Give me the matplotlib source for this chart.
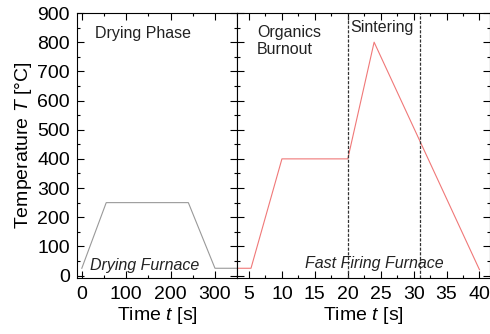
import matplotlib.pyplot as plt
from matplotlib.ticker import MultipleLocator

plt.rcParams['font.family'] = ['Liberation Sans', 'DejaVu Sans']
plt.rcParams['mathtext.fontset'] = 'custom'
plt.rcParams['mathtext.it'] = 'Liberation Sans:italic'
plt.rcParams['mathtext.rm'] = 'Liberation Sans'

# drying furnace profile
dry_t = [0, 55, 240, 300, 350]
dry_T = [25, 250, 250, 25, 25]

# fast firing furnace profile
fire_t = [3.2, 5.3, 10, 20, 24, 40]
fire_T = [25, 25, 400, 400, 800, 20]

phase_lines = [20, 31]

fig = plt.figure(figsize=(4.9, 3.34), dpi=100)
ax1 = fig.add_axes([0.157, 0.168, 0.327, 0.793])
ax2 = fig.add_axes([0.484, 0.168, 0.516, 0.793])

ax1.plot(dry_t, dry_T, color='#999999', lw=0.8)
ax2.plot(fire_t, fire_T, color='#f07878', lw=0.8)
for x in phase_lines:
    ax2.axvline(x, color='#333333', lw=0.9, ls=(0, (2.5, 1.2)))

ax1.set_xlim(-11, 350)
ax2.set_xlim(3.2, 41.6)
for ax in (ax1, ax2):
    ax.set_ylim(-8, 900)
    ax.yaxis.set_major_locator(MultipleLocator(100))
    ax.yaxis.set_minor_locator(MultipleLocator(50))
    ax.tick_params(which='both', direction='in', top=True, right=True,
                   labelsize=14)
    ax.tick_params(which='major', length=5, width=0.8)
    ax.tick_params(which='minor', length=2.5, width=0.8)
    ax.tick_params(axis='x', pad=6)
    ax.set_xlabel('Time $t$ [s]', fontsize=14, labelpad=1)
ax1.xaxis.set_major_locator(MultipleLocator(100))
ax1.xaxis.set_minor_locator(MultipleLocator(50))
ax2.xaxis.set_major_locator(MultipleLocator(5))
ax2.xaxis.set_minor_locator(MultipleLocator(2.5))
ax2.tick_params(labelleft=False)
ax1.tick_params(axis='y', pad=5)
ax1.set_ylabel('Temperature $T$ [°C]', fontsize=14, labelpad=2)

ax1.text(30, 830, 'Drying Phase', fontsize=11.5, va='center', color='#222222')
ax1.text(18, 35, 'Drying Furnace', fontsize=11.5, style='italic',
         va='center', color='#222222')
ax2.text(6.2, 805, 'Organics\nBurnout', fontsize=11.5, va='center',
         color='#222222', linespacing=1.15)
ax2.text(20.4, 852, 'Sintering', fontsize=11.5, va='center',
         color='#222222')
ax2.text(13.5, 40, 'Fast Firing Furnace', fontsize=11.5, style='italic',
         va='center', color='#222222')

fig.savefig('out.png', dpi=100)
